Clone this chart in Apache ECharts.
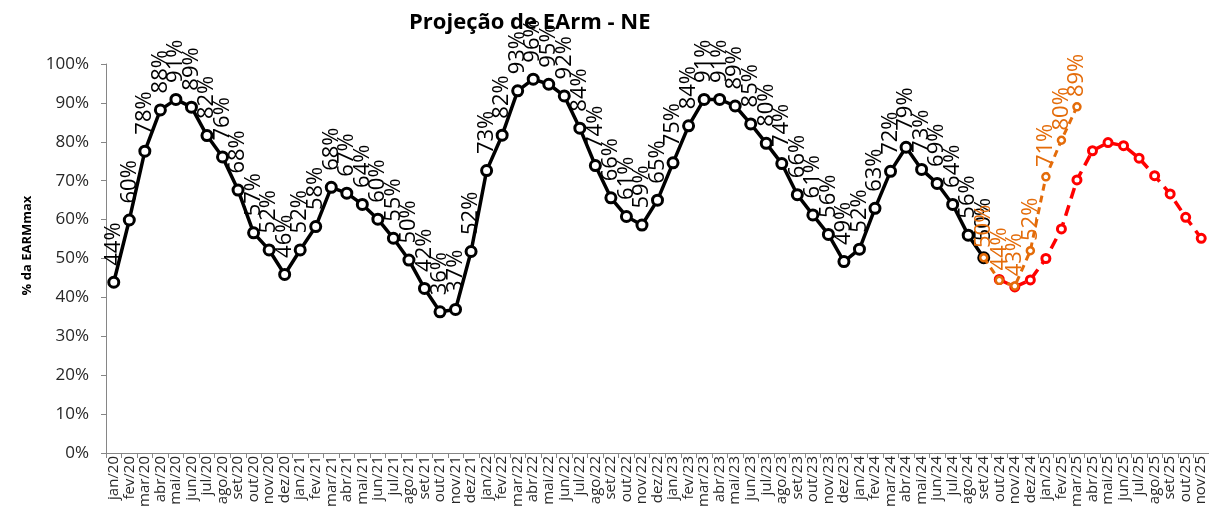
<!DOCTYPE html>
<html>
<head>
<meta charset="utf-8">
<script src="https://cdn.jsdelivr.net/npm/echarts@6/dist/echarts.min.js"></script>
<style>
html,body{margin:0;padding:0;background:#fff;}
#chart{width:1209px;height:517px;}
</style>
</head>
<body>
<div id="chart"></div>
<script>
const months = ['jan','fev','mar','abr','mai','jun','jul','ago','set','out','nov','dez'];
const years = ['20','21','22','23','24','25'];
const categories = [];
years.forEach(function (y) { months.forEach(function (m) { categories.push(m + '/' + y); }); });
categories.splice(categories.indexOf('nov/25') + 1);

const yTicks = [0, 10, 20, 30, 40, 50, 60, 70, 80, 90, 100];

// Histórico (preto)
const historico = [
  43.9, 59.9, 77.6, 88.2, 90.9, 88.9, 81.6, 76.1, 67.6, 56.6, 52.2, 45.9,
  52.2, 58.2, 68.3, 66.8, 63.9, 60.1, 55.2, 49.6, 42.3, 36.3, 36.9, 51.8,
  72.6, 81.7, 93.1, 96.1, 94.8, 91.8, 83.5, 73.9, 65.6, 60.8, 58.6, 65.0,
  74.6, 84.1, 90.9, 90.9, 89.2, 84.6, 79.6, 74.4, 66.4, 61.2, 56.2, 49.2,
  52.4, 62.9, 72.4, 78.6, 72.9, 69.3, 63.9, 56.0, 50.2
];
// Projeção laranja (set/24 .. mar/25)
const projLaranja = [50.2, 44.4, 42.9, 52.0, 71.0, 80.4, 89.0];
const projLaranjaInicio = 'set/24';
// Projeção vermelha (out/24 .. nov/25)
const projVermelha = [44.6, 42.7, 44.5, 50.0, 57.6, 70.2, 77.7, 79.8, 79.0, 75.8, 71.3, 66.6, 60.6, 55.2];
const projVermelhaInicio = 'out/24';

function place(arr, start) {
  const out = categories.map(function () { return null; });
  const i0 = categories.indexOf(start);
  arr.forEach(function (v, i) { out[i0 + i] = v; });
  return out;
}

const FONT = 'Open Sans';
const chart = echarts.init(document.getElementById('chart'), null, { renderer: 'canvas' });
chart.setOption({
  animation: false,
  backgroundColor: '#ffffff',
  title: {
    text: 'Projeção de EArm - NE',
    left: 404,
    top: 7,
    textStyle: { fontFamily: FONT, fontWeight: 'bold', fontSize: 22, color: '#000' }
  },
  grid: { left: 106, right: 0, top: 64, bottom: 64, containLabel: false, outerBoundsMode: 'none' },
  xAxis: {
    type: 'category',
    data: categories,
    boundaryGap: true,
    axisLine: { lineStyle: { color: '#868686', width: 1 } },
    axisTick: { show: true, interval: 0, length: 5, lineStyle: { color: '#868686' } },
    axisLabel: { interval: 0, rotate: 90, fontFamily: FONT, fontSize: 15, color: '#262626', margin: 3 }
  },
  yAxis: {
    type: 'value',
    min: yTicks[0],
    max: yTicks[yTicks.length - 1],
    interval: yTicks[1] - yTicks[0],
    name: '% da EARMmax',
    nameLocation: 'middle',
    nameGap: 72,
    nameTextStyle: { fontFamily: FONT, fontWeight: 'bold', fontSize: 13, color: '#000', padding: [0, 0, 0, 26] },
    axisLine: { show: true, lineStyle: { color: '#868686', width: 1 } },
    axisTick: { show: true, length: 5, lineStyle: { color: '#868686' } },
    splitLine: { show: false },
    axisLabel: { fontFamily: FONT, fontSize: 17, color: '#262626', margin: 17, formatter: '{value}%' }
  },
  series: [
    {
      type: 'line',
      data: historico,
      z: 3,
      symbol: 'circle',
      symbolSize: 10,
      lineStyle: { color: '#000', width: 3.5 },
      itemStyle: { color: '#fff', borderColor: '#000', borderWidth: 3 },
      label: {
        show: true, position: 'top', distance: 10, rotate: 90, align: 'left', verticalAlign: 'middle',
        fontFamily: FONT, fontSize: 22, color: '#000',
        formatter: function (p) { return Math.round(p.value) + '%'; }
      }
    },
    {
      type: 'line',
      data: place(projVermelha, projVermelhaInicio),
      z: 4,
      symbol: 'circle',
      symbolSize: 8,
      lineStyle: { color: '#ff0000', width: 3.5, type: [11, 7] },
      itemStyle: { color: '#fff', borderColor: '#ff0000', borderWidth: 3 },
      label: { show: false }
    },
    {
      type: 'line',
      data: place(projLaranja, projLaranjaInicio),
      z: 5,
      symbol: 'circle',
      symbolSize: 7,
      lineStyle: { color: '#E46C0A', width: 3, type: [7, 5] },
      itemStyle: { color: '#fff', borderColor: '#E46C0A', borderWidth: 2.5 },
      label: {
        show: true, position: 'top', distance: 5, rotate: 90, align: 'left', verticalAlign: 'middle',
        fontFamily: FONT, fontSize: 22, fontWeight: 500, color: '#E46C0A',
        formatter: function (p) { return Math.round(p.value) + '%'; }
      }
    }
  ]
});
</script>
</body>
</html>
